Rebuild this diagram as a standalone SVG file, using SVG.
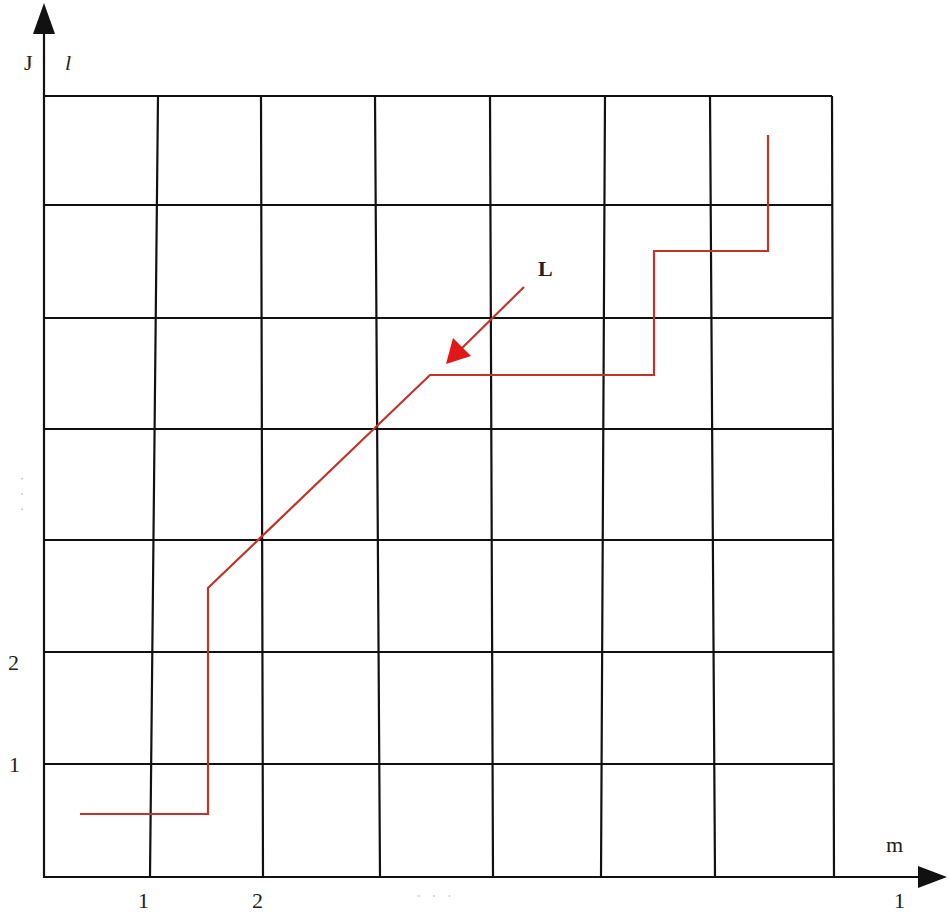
<svg xmlns="http://www.w3.org/2000/svg" width="950" height="917" viewBox="0 0 950 917">
<style>
.g{stroke:#111;stroke-width:2.2;fill:none}
.r{stroke:#c0342c;stroke-width:2.2;fill:none}
.t{font-family:"Liberation Serif",serif;font-size:22px;fill:#222}
.f{font-family:"Liberation Serif",serif;font-size:16px;fill:#ccc}
</style>
<rect width="950" height="917" fill="#fff"/>
<g id="grid">
<path class="g" d="M44,96 H832 M44,205 H833 M44,318 H833 M44,429 H833 M44,540 H833 M44,652 H833 M44,764 H833"/>
<path class="g" d="M158,96 L150,877 M261,96 L263,877 M375,96 L380,877 M490,96 L493,877 M605,96 L601,877 M710,96 L715,877 M832,96 L834,877"/>
</g>
<g id="axes">
<path class="g" d="M44,28 V877 H922"/>
<path d="M44,3 L55,34 L33,34 Z" fill="#111"/>
<path d="M947,877 L918,866 L918,888 Z" fill="#111"/>
</g>
<g id="path-route">
<path class="r" d="M80,814 H208 V588 L430,375 H654 V251 H768 V135"/>
</g>
<g id="connectors">
<path d="M524,287 L454,356" stroke="#c0342c" stroke-width="2.2" fill="none"/>
<path d="M446,364 L453,338 L471,356 Z" fill="#e01818"/>
</g>
<g id="labels">
<text class="t" x="538" y="276" font-weight="bold" font-size="24">L</text>
<text class="t" x="24" y="70">J</text>
<text class="t" x="65" y="70" font-style="italic">l</text>
<text class="t" x="886" y="852">m</text>
<text class="t" x="894" y="908">1</text>
<text class="t" x="138" y="908">1</text>
<text class="t" x="252" y="908">2</text>
<text class="t" x="8" y="670">2</text>
<text class="t" x="9" y="772">1</text>
<text class="f" x="416" y="902" letter-spacing="3">· · ·</text>
<text class="f" x="0" y="0" letter-spacing="3" transform="translate(16,476) rotate(90)">· · ·</text>
</g>
</svg>
